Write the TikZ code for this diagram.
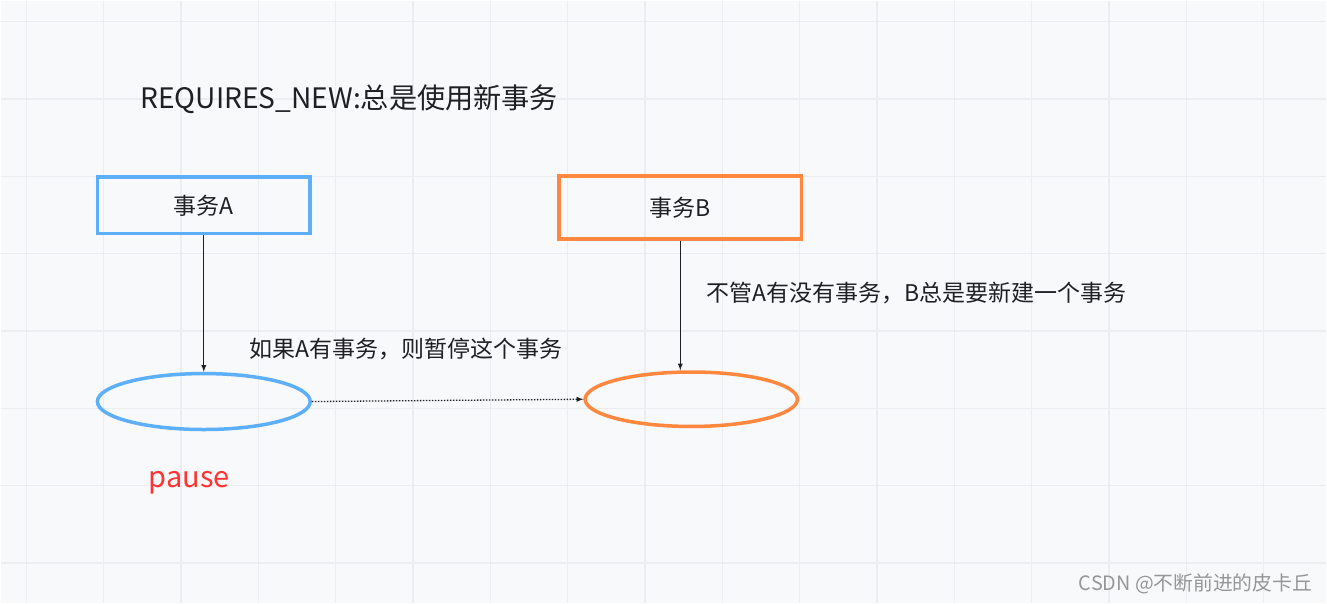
\documentclass[tikz,border=0pt]{standalone}
\usepackage{fontspec}
\setmainfont{Noto Sans CJK SC}
\usetikzlibrary{arrows,shapes.geometric}
\definecolor{bgcol}{RGB}{248,249,251}
\definecolor{gridcol}{RGB}{235,237,240}
\definecolor{bluecol}{RGB}{92,175,248}
\definecolor{orangecol}{RGB}{255,135,62}
\definecolor{textcol}{RGB}{32,32,36}
\definecolor{pausecol}{RGB}{255,51,51}
\definecolor{markcol}{RGB}{150,150,150}

\begin{document}
\begin{tikzpicture}[x=1pt,y=-1pt]
\tikzstyle{every node}=[inner sep=0pt, text=textcol, font=\fontsize{23}{27}\selectfont]
\tikzstyle{gridline}=[gridcol, line width=1.2pt]
\tikzstyle{txbox}=[rectangle, line width=3.5pt]
\tikzstyle{txell}=[ellipse, line width=3.5pt, minimum width=213pt, minimum height=56pt]
\tikzstyle{link}=[textcol, line width=1.3pt, -latex]
\fill[bgcol] (0,0) rectangle (1327,603);
\foreach \i in {0,...,16} \draw[gridline] ({25.7+77.41*\i},0) -- ({25.7+77.41*\i},603);
\foreach \j in {0,...,7} \draw[gridline] (0,{21+77.41*\j}) -- (1327,{21+77.41*\j});
\draw (349,99) node (title) [font=\fontsize{28.2}{33}\selectfont] {REQUIRES\_NEW:总是使用新事务};
\draw (203.4,205) node (boxA) [txbox, draw=bluecol, minimum width=213pt, minimum height=56.5pt] {事务A};
\draw (680.3,207.3) node (boxB) [txbox, draw=orangecol, minimum width=242.5pt, minimum height=63pt] {事务B};
\draw (203.4,401.3) node (ellA) [txell, draw=bluecol] {};
\draw (691.3,399) node (ellB) [txell, draw=orangecol, minimum width=212.5pt, minimum height=54.5pt] {};
\draw (boxA) -- (ellA) [link];
\draw (boxB.south) -- (boxB.south |- ellB.north) [link];
\draw (ellA.east) -- (ellB.west) [link, dash pattern=on 1.5pt off 1.5pt];
\draw (406,349) node (noteA) {如果A有事务，则暂停这个事务};
\draw (917,292.5) node (noteB) {不管A有没有事务，B总是要新建一个事务};
\draw (189,483) node (pause) [text=pausecol, font=\fontsize{29}{34}\selectfont] {pause};
\draw (1196,584) node (mark) [text=markcol, font=\fontsize{19.8}{23}\selectfont] {CSDN @不断前进的皮卡丘};
\end{tikzpicture}
\end{document}
